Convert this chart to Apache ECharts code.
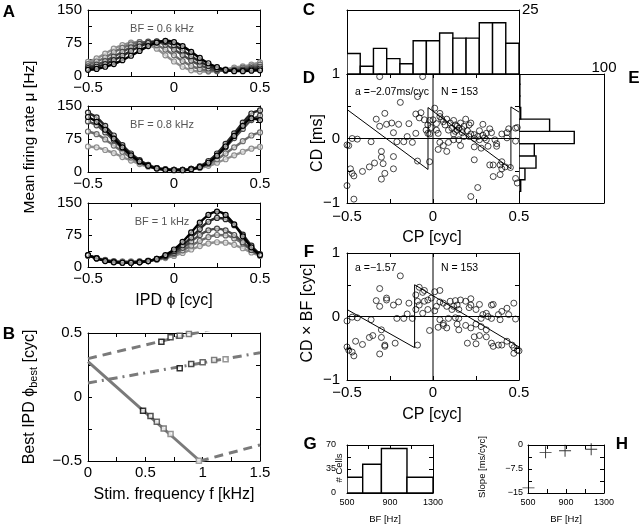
<!DOCTYPE html>
<html><head><meta charset="utf-8">
<script src="https://cdn.jsdelivr.net/npm/echarts@6/dist/echarts.min.js"></script>
<style>html,body{margin:0;padding:0;background:#fff}#c{width:641px;height:527px}</style>
</head><body><div id="c"></div><script>
// ---------------- DATA ----------------
const A_ipd = [-0.5,-0.45,-0.4,-0.35,-0.3,-0.25,-0.2,-0.15,-0.1,-0.05,0,0.05,0.1,0.15,0.2,0.25,0.3,0.35,0.4,0.45,0.5];
// BF = 0.6 kHz (light -> dark)
const A1_c1 = [32,40,51,62,70,76,77,71,62,47,33,21,13,10,10,12,15,19,22,26,31];
const A1_c2 = [27,33,42,54,64,72,77,76,70,60,47,34,23,16,12,11,13,15,19,22,26];
const A1_c3 = [22,26,34,44,55,65,73,78,77,71,60,48,35,25,17,13,12,13,15,18,21];
const A1_c4 = [18,21,27,36,46,57,67,75,79,77,70,58,45,33,23,16,13,12,13,15,17];
const A1_c5 = [14,16,21,27,36,46,57,68,76,80,77,68,55,41,29,20,14,11,11,12,13];
// BF = 0.8 kHz
const A2_c1 = [58,56,50,43,34,26,18,12,8,6,5,5,6,9,14,21,29,38,46,53,57];
const A2_c2 = [92,86,74,60,46,33,22,14,9,6,5,5,7,11,18,29,42,56,70,83,90];
const A2_c3 = [115,106,90,72,54,38,25,15,9,6,5,5,7,12,22,37,56,77,98,118,128];
const A2_c4 = [135,124,105,83,61,42,27,16,9,6,5,5,7,13,25,42,64,88,112,133,140];
const A2_c5 = [125,114,96,76,56,38,24,14,8,5,4,4,6,11,21,37,58,82,105,122,118];
// BF = 1 kHz
const A3_c1 = [26,21,17,14,13,13,13,14,17,21,26,33,41,49,55,58,57,52,44,34,26];
const A3_c2 = [27,21,16,13,12,12,13,15,18,23,30,39,50,61,70,75,74,67,55,40,28];
const A3_c3 = [27,20,15,12,11,11,12,14,18,24,33,45,60,75,86,90,86,75,58,40,28];
const A3_c4 = [28,21,15,12,10,10,11,14,19,26,37,51,69,89,106,115,112,98,76,50,30];
const A3_c5 = [28,20,14,11,10,10,11,14,19,28,41,59,81,104,122,130,122,100,72,46,28];
const A_titles = ['BF = 0.6 kHz','BF = 0.8 kHz','BF = 1 kHz'];

// Panel B
const B_upperF = [0, 1.5], B_upperPhi = [0.30, 0.62];
const B_dashdotF = [0, 1.5], B_dashdotPhi = [0.11, 0.346];
const B_solidF = [0, 0.976], B_solidPhi = [0.276, -0.5];
const B_lowerF = [0.976, 1.5], B_lowerPhi = [-0.5, -0.375];
const B_sqUpperF = [0.64,0.72,0.80,0.88], B_sqUpperPhi = [0.432,0.466,0.479,0.492];
const B_sqMidF = [0.80,0.90,1.00,1.10,1.20], B_sqMidPhi = [0.224,0.258,0.271,0.289,0.294];
const B_sqLowF = [0.48,0.545,0.60,0.66,0.72,0.967], B_sqLowPhi = [-0.107,-0.148,-0.193,-0.247,-0.289,-0.498];

// Panel C: CP histogram
const C_edges = [-0.5,-0.4231,-0.3462,-0.2692,-0.1923,-0.1154,-0.0385,0.0385,0.1154,0.1923,0.2692,0.3462,0.4231,0.5];
const C_counts = [8,3,10,6,4,13,13,16,14,14,20,20,12];

// Panel D scatter
const D_cp = [-0.31,-0.06,-0.19,-0.09,-0.28,-0.33,-0.27,-0.24,-0.20,-0.31,-0.23,-0.14,-0.10,-0.07,-0.08,-0.05,-0.03,-0.02,-0.04,-0.03,-0.02,-0.10,-0.15,-0.21,-0.17,-0.12,-0.36,-0.47,-0.44,-0.50,-0.49,-0.30,-0.30,-0.23,-0.34,-0.37,-0.29,-0.23,-0.28,-0.30,-0.41,-0.48,-0.47,-0.46,-0.50,-0.46,-0.09,-0.02,
 0.01,0.04,0.04,0.05,0.00,0.02,-0.01,0.02,0.03,0.08,0.10,0.12,0.13,0.09,0.11,0.14,0.15,0.13,0.16,0.17,0.19,0.21,0.22,0.22,0.24,0.21,0.18,0.24,0.27,0.29,0.31,0.33,0.34,0.30,0.31,0.27,0.36,0.37,0.40,0.43,0.44,0.43,0.48,0.48,0.49,0.04,0.06,0.09,0.12,0.15,0.03,0.08,0.16,0.24,0.28,0.32,0.37,0.24,0.33,0.35,0.39,0.40,0.42,0.45,0.40,0.35,0.39,0.48,0.49,0.26,0.22,0.14,0.17,0.12,0.20,0.26,0.29,0.07,0.06,0.18];
const D_cd = [0.96,0.96,0.56,0.65,0.39,0.30,0.22,0.24,0.22,0.19,0.09,0.23,0.38,0.40,0.32,0.29,0.21,0.28,0.13,0.08,0.07,0.08,0.03,-0.05,-0.05,-0.06,-0.05,0.00,-0.01,-0.10,-0.11,-0.20,-0.29,-0.28,-0.38,-0.44,-0.39,-0.47,-0.54,-0.63,-0.51,-0.47,-0.54,-0.58,-0.73,-0.94,-0.35,-0.36,
 0.47,0.39,0.34,0.30,0.29,0.23,0.17,0.13,0.08,0.30,0.24,0.28,0.21,0.13,0.16,0.19,0.16,0.11,0.24,0.09,0.30,0.21,0.24,0.07,0.06,0.03,0.03,0.00,0.12,0.22,0.08,0.15,0.09,0.01,-0.02,-0.02,-0.02,-0.08,0.07,0.09,0.15,0.01,0.16,-0.04,0.17,-0.06,-0.11,-0.06,-0.02,-0.02,-0.17,-0.20,-0.11,-0.13,-0.15,-0.12,-0.12,-0.33,-0.41,-0.41,-0.41,-0.36,-0.44,-0.45,-0.47,-0.59,-0.56,-0.62,-0.69,-0.76,-0.90,0.13,0.14,0.07,0.12,0.03,0.05,0.21,0.26,0.19];
const D_fitCP = [-0.5,-0.029,-0.029,0.453,0.453,0.5];
const D_fitCD = [0.45,-0.48,0.48,-0.47,0.49,0.41];

// Panel E: CD histogram (horizontal)
const E_edges = [-1,-0.82,-0.64,-0.46,-0.27,-0.08,0.11,0.30,0.48,0.66,0.84,1];
const E_counts = [0,2,7,20,18,65,36,2,1,1,1];

// Panel F scatter
const F_cp = [-0.19,-0.31,-0.33,-0.31,-0.27,-0.27,-0.23,-0.20,-0.14,-0.21,-0.17,-0.15,-0.12,-0.36,-0.47,-0.44,-0.50,-0.30,-0.30,-0.35,-0.37,-0.41,-0.45,-0.50,-0.49,-0.47,-0.46,-0.31,-0.28,-0.28,-0.22,-0.09,-0.02,
 -0.10,-0.08,-0.06,-0.05,-0.08,-0.10,-0.09,-0.05,-0.03,-0.03,-0.06,-0.01,0.01,0.04,0.02,0.01,0.04,0.06,0.08,0.10,0.13,0.14,0.11,0.15,0.12,0.16,0.19,0.22,0.21,0.22,0.25,0.27,0.31,0.28,0.32,0.35,0.34,0.29,0.38,0.40,0.43,0.47,0.48,0.39,0.34,0.44,
 0.04,0.06,0.09,0.13,0.15,0.03,0.06,0.08,0.14,0.15,0.19,0.22,0.25,0.28,0.31,0.24,0.27,0.31,0.20,0.25,0.34,0.35,0.38,0.40,0.43,0.46,0.47,0.49,0.50,0.47];
const F_cdbf = [0.64,0.44,0.25,0.16,0.29,0.26,0.18,0.23,0.21,-0.03,-0.03,0.04,-0.03,-0.05,-0.01,-0.02,-0.07,-0.21,-0.33,-0.30,-0.33,-0.44,-0.39,-0.48,-0.53,-0.56,-0.62,-0.59,-0.45,-0.47,-0.42,-0.45,-0.22,
 0.34,0.46,0.38,0.41,0.18,0.11,0.24,0.24,0.26,0.11,0.05,0.29,0.39,0.41,0.16,0.09,0.23,0.21,0.16,0.24,0.25,0.18,0.11,0.11,0.16,0.26,0.24,0.28,0.14,0.18,0.11,0.19,0.05,-0.03,0.00,0.19,0.18,0.03,0.03,0.08,0.13,0.21,-0.04,-0.05,-0.03,0.03,
 -0.05,-0.11,-0.03,-0.02,-0.03,-0.17,-0.14,-0.18,-0.12,-0.21,-0.14,-0.18,-0.12,-0.16,-0.21,-0.32,-0.30,-0.32,-0.42,-0.43,-0.42,-0.47,-0.45,-0.45,-0.39,-0.45,-0.58,-0.53,-0.54,-0.49];
const F_fitCP = [-0.5,-0.107,-0.107,0.5];
const F_fitCD = [0.11,-0.49,0.50,-0.48];

// Panel G: BF histogram
const G_edges = [500,646,820,1058,1300];
const G_counts = [23,42,65,23];
// Panel H: slope vs BF
const H_bf = [505,685,890,1165];
const H_slope = [-13.4,-2.3,-1.8,-1.3];

// ---------------- BUILD ----------------
const FONT = '"Liberation Sans", Arial, Helvetica, sans-serif';
const grids = [], xAxes = [], yAxes = [], series = [], graphics = [];
const fmt = v => String(Math.round(v*1000)/1000).replace('-', '\u2212');

function axis(min, max, pos, ticks, labels, fs, margin) {
  return {
    type:'value', min:min, max:max, position:pos,
    axisLine:{show:true, onZero:false, lineStyle:{color:'#000', width:1}},
    axisTick: ticks ? {show:true, inside:true, length:4, customValues:ticks, lineStyle:{color:'#000', width:1}} : {show:false},
    axisLabel: labels ? {show:true, customValues:labels, formatter:fmt, fontSize:fs, fontFamily:FONT, color:'#000', margin:margin, hideOverlap:false} : {show:false},
    splitLine:{show:false}, axisPointer:{show:false}
  };
}
function panel(p) {
  const gi = grids.length;
  grids.push({left:p.l, top:p.t, width:p.w, height:p.h, containLabel:false, outerBoundsMode:'none', show:false});
  const xi = xAxes.length, yi = yAxes.length;
  xAxes.push(Object.assign(axis(p.x[0], p.x[1], 'bottom', p.xt, p.xl, p.fs, p.xm), {gridIndex:gi}));
  xAxes.push(Object.assign(axis(p.x[0], p.x[1], 'top', p.mirror ? p.xt : null, null, p.fs, 2), {gridIndex:gi}));
  yAxes.push(Object.assign(axis(p.y[0], p.y[1], 'left', p.yt, p.yl, p.fs, p.ym), {gridIndex:gi}));
  yAxes.push(Object.assign(axis(p.y[0], p.y[1], 'right', p.mirror ? p.yt : null, p.ylRight, p.fs, p.ymRight || 3), {gridIndex:gi}));
  return {x:xi, y:yi};
}
function text(x, y, str, size, opts) {
  opts = opts || {};
  graphics.push({type:'text', x:x, y:y, rotation: opts.rot ? Math.PI/2 : 0, z:100,
    style:{text:str, font:(opts.bold?'bold ':'') + size + 'px ' + FONT, fill:opts.color || '#000',
      textAlign:opts.align || 'center', textVerticalAlign:'middle', rich:opts.rich}});
}
const zip = (a, b) => a.map((v, i) => [v, b[i]]);
const hollow = {color:'rgba(255,255,255,0)', borderColor:'#000', borderWidth:0.9};

// ---- Panel A ----
const A_shades = ['#8f8f8f','#6c6c6c','#4a4a4a','#262626','#000000'];
const A_sets = [[A1_c1,A1_c2,A1_c3,A1_c4,A1_c5],[A2_c1,A2_c2,A2_c3,A2_c4,A2_c5],[A3_c1,A3_c2,A3_c3,A3_c4,A3_c5]];
const A_tops = [10,106,203], A_hs = [66,66,64];
A_sets.forEach((set, k) => {
  const ax = panel({l:88, t:A_tops[k], w:172, h:A_hs[k], x:[-0.5,0.5], y:[0,150],
    xt:[-0.5,-0.25,0,0.25,0.5], xl:[-0.5,0,0.5], yt:[0,37.5,75,112.5,150], yl:[0,75,150],
    fs:15, xm:4, ym:6, mirror:true});
  set.forEach((c, j) => series.push({type:'line', xAxisIndex:ax.x, yAxisIndex:ax.y, data:zip(A_ipd, c),
    smooth:0.3, symbol:'circle', symbolSize:5, showSymbol:true,
    lineStyle:{color:A_shades[j], width:2.4},
    itemStyle:{color:'rgba(255,255,255,0.6)', borderColor:A_shades[j], borderWidth:1.2}, z:2+j}));
  text(162, A_tops[k] + 19, A_titles[k], 11, {color:'#555'});
});

// ---- Panel B ----
const axB = panel({l:88, t:333, w:172, h:128, x:[0,1.5], y:[-0.5,0.5],
  xt:[0,0.25,0.5,0.75,1,1.25,1.5], xl:[0,0.5,1,1.5], yt:[-0.5,-0.25,0,0.25,0.5], yl:[-0.5,0,0.5],
  fs:15, xm:4, ym:6, mirror:true});
const Bgray = '#7a7a7a';
[[B_upperF,B_upperPhi,[9,6]],[B_dashdotF,B_dashdotPhi,[9,5,2,5]],[B_solidF,B_solidPhi,'solid'],[B_lowerF,B_lowerPhi,[9,6]]]
  .forEach(l => series.push({type:'line', xAxisIndex:axB.x, yAxisIndex:axB.y, data:zip(l[0], l[1]), symbol:'none', clip:true,
    lineStyle:{color:Bgray, width:3, type:l[2]}}));
const sqShades = ['#000','#222','#444','#5e5e5e','#7a7a7a','#8e8e8e'];
[[B_sqUpperF,B_sqUpperPhi],[B_sqMidF,B_sqMidPhi],[B_sqLowF,B_sqLowPhi]].forEach(s =>
  series.push({type:'scatter', xAxisIndex:axB.x, yAxisIndex:axB.y, symbol:'rect', symbolSize:5, z:5,
    data: zip(s[0], s[1]).map((d, i) => ({value:d, itemStyle:{color:'#fff', borderColor:sqShades[i], borderWidth:1.5}}))}));

// ---- histogram renderer ----
function histRender(horizontal) {
  return function(params, api) {
    const a = api.value(0), b = api.value(1), c = api.value(2);
    let p0, p1;
    if (horizontal) { p0 = api.coord([0, a]); p1 = api.coord([c, b]); }
    else { p0 = api.coord([a, 0]); p1 = api.coord([b, c]); }
    const x = Math.min(p0[0], p1[0]), y = Math.min(p0[1], p1[1]);
    return {type:'rect', shape:{x:x, y:y, width:Math.abs(p1[0]-p0[0]), height:Math.abs(p1[1]-p0[1])},
      style:{fill:'#fff', stroke:'#000', lineWidth:1.4}};
  };
}
const binData = (edges, counts) => counts.map((c, i) => [edges[i], edges[i+1], c]);

// ---- Panel C ----
const axC = panel({l:347, t:10, w:172, h:64, x:[-0.5,0.5], y:[0,25], ylRight:[25], fs:15, ymRight:3});
series.push({type:'custom', xAxisIndex:axC.x, yAxisIndex:axC.y, renderItem:histRender(false),
  data:binData(C_edges, C_counts), encode:{x:[0,1], y:2}, clip:true});

// ---- Panel D ----
const axD = panel({l:347, t:74, w:172, h:129, x:[-0.5,0.5], y:[-1,1],
  xt:[-0.5,-0.25,0,0.25,0.5], xl:[-0.5,0,0.5], yt:[-1,-0.5,0,0.5,1], yl:[-1,0,1], fs:15, xm:6, ym:7, mirror:true});
series.push({type:'line', xAxisIndex:axD.x, yAxisIndex:axD.y, data:[[-0.5,0],[0.5,0]], symbol:'none', lineStyle:{color:'#000', width:1}});
series.push({type:'line', xAxisIndex:axD.x, yAxisIndex:axD.y, data:[[0,-1],[0,1]], symbol:'none', lineStyle:{color:'#000', width:1}});
series.push({type:'line', xAxisIndex:axD.x, yAxisIndex:axD.y, data:zip(D_fitCP, D_fitCD), symbol:'none', lineStyle:{color:'#000', width:1}});
series.push({type:'scatter', xAxisIndex:axD.x, yAxisIndex:axD.y, data:zip(D_cp, D_cd), symbol:'circle', symbolSize:6,
  itemStyle:hollow, clip:false});
text(355, 92, 'a =\u22122.07ms/cyc', 10.5, {align:'left'});
text(441, 92, 'N = 153', 10.5, {align:'left'});

// ---- Panel E ----
const axE = panel({l:519, t:74, w:85, h:129, x:[0,100], y:[-1,1], fs:15});
series.push({type:'custom', xAxisIndex:axE.x, yAxisIndex:axE.y, renderItem:histRender(true),
  data:binData(E_edges, E_counts), encode:{y:[0,1], x:2}, clip:true});
text(604, 68, '100', 15);

// ---- Panel F ----
const axF = panel({l:347, t:253, w:172, h:127, x:[-0.5,0.5], y:[-1,1],
  xt:[-0.5,-0.25,0,0.25,0.5], xl:[-0.5,0,0.5], yt:[-1,-0.5,0,0.5,1], yl:[-1,0,1], fs:15, xm:5, ym:7, mirror:true});
series.push({type:'line', xAxisIndex:axF.x, yAxisIndex:axF.y, data:[[-0.5,0],[0.5,0]], symbol:'none', lineStyle:{color:'#000', width:1}});
series.push({type:'line', xAxisIndex:axF.x, yAxisIndex:axF.y, data:[[0,-1],[0,1]], symbol:'none', lineStyle:{color:'#000', width:1}});
series.push({type:'line', xAxisIndex:axF.x, yAxisIndex:axF.y, data:zip(F_fitCP, F_fitCD), symbol:'none', lineStyle:{color:'#000', width:1}});
series.push({type:'scatter', xAxisIndex:axF.x, yAxisIndex:axF.y, data:zip(F_cp, F_cdbf), symbol:'circle', symbolSize:6,
  itemStyle:hollow, clip:false});
text(355, 268, 'a =\u22121.57', 10.5, {align:'left'});
text(441, 268, 'N = 153', 10.5, {align:'left'});

// ---- Panel G ----
const axG = panel({l:347, t:445, w:86, h:48, x:[500,1300], y:[0,70],
  xt:[500,700,900,1100,1300], xl:[500,900,1300], yt:[0,17.5,35,52.5,70], yl:[0,35,70], fs:9, xm:5, ym:11, mirror:true});
series.push({type:'custom', xAxisIndex:axG.x, yAxisIndex:axG.y, renderItem:histRender(false),
  data:binData(G_edges, G_counts), encode:{x:[0,1], y:2}, clip:true});

// ---- Panel H ----
const axH = panel({l:528, t:445, w:76, h:48, x:[500,1300], y:[-15,0],
  xt:[500,700,900,1100,1300], xl:[500,900,1300], yt:[-15,-11.25,-7.5,-3.75,0], yl:[-15,-7.5,0], fs:9, xm:5, ym:5, mirror:true});
series.push({type:'scatter', xAxisIndex:axH.x, yAxisIndex:axH.y, data:zip(H_bf, H_slope), clip:false,
  symbol:'path://M4.6,0H5.4V4.6H10V5.4H5.4V10H4.6V5.4H0V4.6H4.6Z', symbolSize:12, itemStyle:{color:'#000'}});

// ---- Texts ----
['A',9,12,'B',9,334,'C',309,10,'D',309,78,'E',634,78,'F',309,252,'G',310,444,'H',622,444].forEach((v, i, arr) => {
  if (i % 3 === 0) text(arr[i+1], arr[i+2], v, 17, {bold:true});
});
text(30, 137, 'Mean firing rate \u03bc [Hz]', 15.5, {rot:true});
text(174, 301, 'IPD \u03d5 [cyc]', 16);
text(30, 397, '{a|Best IPD \u03d5}{b|best}{a| [cyc]}', 16, {rot:true,
  rich:{a:{fontSize:16, fontFamily:FONT, lineHeight:20}, b:{fontSize:11, fontFamily:FONT, lineHeight:20, padding:[8,0,0,0]}}});
text(174, 495, 'Stim. frequency f [kHz]', 16);
text(318, 143, 'CD [ms]', 16, {rot:true});
text(432, 238, 'CP [cyc]', 16);
text(308, 313, 'CD \u00d7 BF [cyc]', 16, {rot:true});
text(432, 415, 'CP [cyc]', 16);
text(339, 468, '# Cells', 9.5, {rot:true});
text(385, 519, 'BF [Hz]', 9.5);
text(482, 467, 'Slope [ms/cyc]', 9.5, {rot:true});
text(566, 519, 'BF [Hz]', 9.5);

const chart = echarts.init(document.getElementById('c'), null, {renderer:'canvas'});
chart.setOption({animation:false, backgroundColor:'#fff', grid:grids, xAxis:xAxes, yAxis:yAxes, series:series, graphic:graphics});
</script></body></html>
